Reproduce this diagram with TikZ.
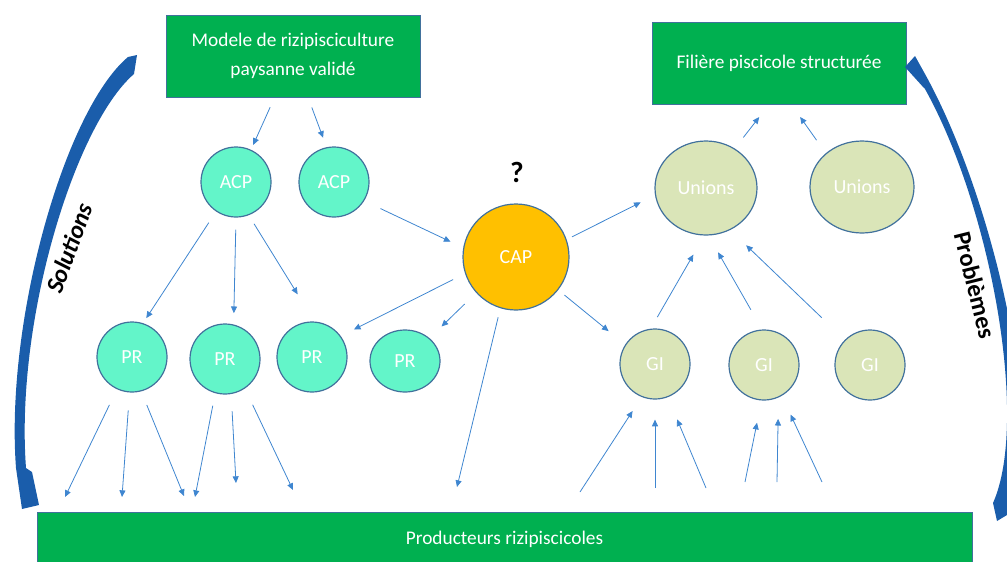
\documentclass[tikz,border=0pt]{standalone}
\usepackage{fontspec}
\setmainfont{Carlito}
\usetikzlibrary{arrows.meta,shapes.geometric}
\definecolor{vert}{HTML}{00B050}
\definecolor{bordure}{HTML}{41719C}
\definecolor{menthe}{HTML}{63F5C9}
\definecolor{olive}{HTML}{DAE5B8}
\definecolor{orange}{HTML}{FFC000}
\definecolor{bleufleche}{HTML}{3F86D0}
\definecolor{bleufonce}{HTML}{1A5DAB}
\begin{document}
\begin{tikzpicture}[x=0.75pt,y=-0.75pt,
    boite/.style={rectangle, draw=bordure, line width=0.75pt, fill=vert, text=white,
      minimum width=190.5pt, minimum height=61.5pt, align=center,
      font=\fontsize{14.5}{22}\selectfont},
    rond/.style={circle, draw=bordure, line width=0.9pt, text=white, inner sep=0pt,
      minimum size=52.5pt, font=\fontsize{15}{18}\selectfont},
    rondvert/.style={rond, fill=menthe},
    rondolive/.style={rond, fill=olive},
    rondor/.style={rond, fill=orange},
    fleche/.style={-{Triangle[length=5pt,width=4.5pt]}, draw=bleufleche, line width=0.6pt},
    courbe/.style={fill=bleufonce}]
  \useasboundingbox (0,0) rectangle (1007,561);
  % boites
  \node[boite] (modele) at (293,56) {Modele de rizipisciculture\\paysanne validé};
  \node[boite] (filiere) at (779,63.5) {Filière piscicole structurée};
  \node[boite, minimum width=701.25pt, minimum height=40.5pt] (prod) at (504.5,539) {Producteurs rizipiscicoles};
  % ronds
  \node[rondvert] (acp1) at (236,182) {ACP};
  \node[rondvert] (acp2) at (334,182) {ACP};
  \node[rondor, minimum size=79.5pt] (cap) at (516,257) {CAP};
  \node[font=\bfseries\fontsize{22}{26}\selectfont] (question) at (517,172) {?};
  \node[rondolive, ellipse, minimum width=76.5pt, minimum height=70.5pt] (u1) at (706,188) {Unions};
  \node[rondolive, ellipse, minimum width=78pt, minimum height=69pt] (u2) at (862,187) {Unions};
  \node[rondvert] (pr1) at (132,357) {PR};
  \node[rondvert] (pr2) at (225,359) {PR};
  \node[rondvert] (pr3) at (312,357) {PR};
  \node[rondvert, ellipse, minimum width=52.5pt, minimum height=46.5pt] (pr4) at (405,361) {PR};
  \node[rondolive] (gi1) at (655,364) {GI};
  \node[rondolive] (gi2) at (764,365) {GI};
  \node[rondolive] (gi3) at (870,365) {GI};
  % bouts libres
  \coordinate (b1) at (65,497);
  \coordinate (b2) at (122,497);
  \coordinate (b3) at (184,496);
  \coordinate (b4) at (195,497);
  \coordinate (b5) at (236,483);
  \coordinate (b6) at (293,490);
  \coordinate (b7) at (457,487);
  \coordinate (h1) at (580,492);
  \coordinate (h2) at (655,488);
  \coordinate (h3) at (706,488);
  \coordinate (h4) at (745,482);
  \coordinate (h5) at (777,482);
  \coordinate (h6) at (822,482);
  % fleches
  \draw[fleche, shorten <=8pt, shorten >=4pt] (modele.246) -- (acp1.65);
  \draw[fleche, shorten <=8pt, shorten >=7.5pt] (modele.290) -- (acp2.102);
  \draw[fleche, shorten <=10pt, shorten >=4.5pt] (acp1.236) -- (pr1.72);
  \draw[fleche, shorten <=9pt, shorten >=8.5pt] (acp1.270) -- (pr2.76);
  \draw[fleche, shorten <=7.5pt, shorten >=24pt] (acp1.291) -- (pr3.86);
  \draw[fleche, shorten <=13.5pt, shorten >=10.5pt] (acp2.328) -- (cap.170);
  \draw[fleche, shorten <=10pt, shorten >=11pt] (cap.198) -- (pr3.36);
  \draw[fleche, shorten <=12pt, shorten >=12.5pt] (cap.222) -- (pr4.43);
  \draw[fleche, shorten <=7pt] (cap.253) -- (b7);
  \draw[fleche, shorten <=4.5pt, shorten >=12pt] (cap.19) -- (u1.188);
  \draw[fleche, shorten <=6pt, shorten >=16pt] (cap.322) -- (gi1.147);
  \draw[fleche, shorten <=13pt] (pr1.245) -- (b1);
  \draw[fleche, shorten <=13.5pt] (pr1.266) -- (b2);
  \draw[fleche, shorten <=11pt] (pr1.285) -- (b3);
  \draw[fleche, shorten <=9.5pt] (pr2.254) -- (b4);
  \draw[fleche, shorten <=13pt] (pr2.280) -- (b5);
  \draw[fleche, shorten <=13.5pt] (pr2.304) -- (b6);
  \draw[fleche, shorten >=12.5pt] (h1) -- (gi1.248);
  \draw[fleche, shorten >=15pt] (h2) -- (gi1.270);
  \draw[fleche, shorten >=18pt] (h3) -- (gi1.291);
  \draw[fleche, shorten >=17pt] (h4) -- (gi2.266);
  \draw[fleche, shorten >=16pt] (h5) -- (gi2.294);
  \draw[fleche, shorten >=15.5pt] (h6) -- (gi2.300);
  \draw[fleche, shorten <=10pt, shorten >=16.5pt] (gi1.97) -- (u1.268);
  \draw[fleche, shorten <=17pt, shorten >=14.5pt] (gi2.93) -- (u1.273);
  \draw[fleche, shorten <=24pt, shorten >=16.5pt] (gi3.135) -- (u1.300);
  \draw[fleche, shorten <=10.5pt, shorten >=11.5pt] (u1.54) -- (filiere.256);
  \draw[fleche, shorten <=12pt, shorten >=11pt] (u2.137) -- (filiere.287);
  % grandes fleches
  \fill[courbe] (128,57) .. controls (65,110) and (5,320) .. (16,468) -- (22,509) -- (39,505)
    -- (32,472) -- (26,468) .. controls (15,320) and (75,125) .. (134,74) -- (137,55) -- cycle;
  \fill[courbe] (993,503) -- (997,521) -- (1012,512) .. controls (1045,420) and (992,195) .. (925,74)
    -- (915,56) -- (905,67) -- (924,88) -- (921,82) .. controls (990,200) and (1030,420) .. (993,503) -- cycle;
  \node[rotate=70, font=\bfseries\itshape\fontsize{18.5}{22}\selectfont] (solutions) at (69,248) {Solutions};
  \node[rotate=-76, font=\bfseries\fontsize{18.5}{22}\selectfont] (problemes) at (975,285) {Problèmes};
\end{tikzpicture}
\end{document}
